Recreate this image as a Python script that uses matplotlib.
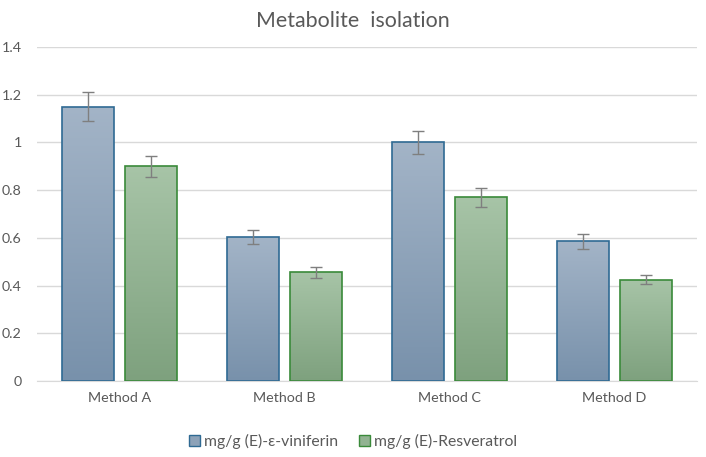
import numpy as np
import matplotlib.pyplot as plt
from matplotlib.colors import LinearSegmentedColormap
from matplotlib.patches import Patch

methods = ["Method A", "Method B", "Method C", "Method D"]
viniferin = [1.15, 0.605, 1.0, 0.585]
viniferin_err = [0.06, 0.03, 0.05, 0.03]
resveratrol = [0.90, 0.455, 0.77, 0.425]
resveratrol_err = [0.045, 0.022, 0.04, 0.02]

plt.rcParams['font.family'] = ['Lato', 'DejaVu Sans']

fig = plt.figure(figsize=(7.06, 4.57), dpi=100)
ax = fig.add_axes([37 / 706, 76 / 457, 660 / 706, 334 / 457])

x = np.arange(len(methods))
w = 0.315
off = 0.19

blue_cmap = LinearSegmentedColormap.from_list("b", ["#7891ab", "#a3b4c7"])
green_cmap = LinearSegmentedColormap.from_list("g", ["#7ea17e", "#a7c4a7"])
grad = np.linspace(0, 1, 256).reshape(-1, 1)


def gradient_bars(xs, vals, cmap, edge):
    bars = ax.bar(xs, vals, w, facecolor="none", edgecolor=edge, linewidth=1.2, zorder=3)
    for b in bars:
        x0, y0 = b.get_x(), b.get_y()
        im = ax.imshow(grad, extent=[x0, x0 + b.get_width(), y0, y0 + b.get_height()],
                       origin="lower", cmap=cmap, aspect="auto", zorder=2)
        im.set_clip_path(b)
    return bars


gradient_bars(x - off, viniferin, blue_cmap, "#2f6a93")
gradient_bars(x + off, resveratrol, green_cmap, "#3a8a3a")

ax.errorbar(x - off, viniferin, yerr=viniferin_err, fmt="none", ecolor="#7f7f7f",
            elinewidth=1, capsize=4, capthick=1, zorder=4)
ax.errorbar(x + off, resveratrol, yerr=resveratrol_err, fmt="none", ecolor="#7f7f7f",
            elinewidth=1, capsize=4, capthick=1, zorder=4)

ax.set_xlim(-0.5, 3.5)
ax.set_ylim(0, 1.4)
ax.set_yticks(np.arange(0, 1.41, 0.2))
ax.set_yticklabels(["0", "0.2", "0.4", "0.6", "0.8", "1", "1.2", "1.4"])
ax.set_xticks(x)
ax.set_xticklabels(methods)
ax.yaxis.grid(True, color="#d9d9d9", linewidth=1, zorder=0)
ax.set_axisbelow(True)
for s in ["top", "right", "left"]:
    ax.spines[s].set_visible(False)
ax.spines["bottom"].set_color("#d9d9d9")
ax.tick_params(axis="both", length=0, colors="#595959", labelsize=10.3)
ax.tick_params(axis="y", pad=11)
ax.tick_params(axis="x", pad=8)

fig.text(0.5, 0.975, "Metabolite  isolation", ha="center", va="top",
         fontsize=15.4, color="#595959")

handles = [Patch(facecolor="#8da2b8", edgecolor="#2f6a93", label="mg/g (E)-ε-viniferin"),
           Patch(facecolor="#92b392", edgecolor="#3a8a3a", label="mg/g (E)-Resveratrol")]
fig.legend(handles=handles, loc="center", bbox_to_anchor=(0.5, 0.035), ncol=2,
           frameon=False, fontsize=11.3, labelcolor="#595959", handlelength=0.7,
           handleheight=0.7, handletextpad=0.25, columnspacing=1.3)

fig.savefig("out.png", dpi=100)
